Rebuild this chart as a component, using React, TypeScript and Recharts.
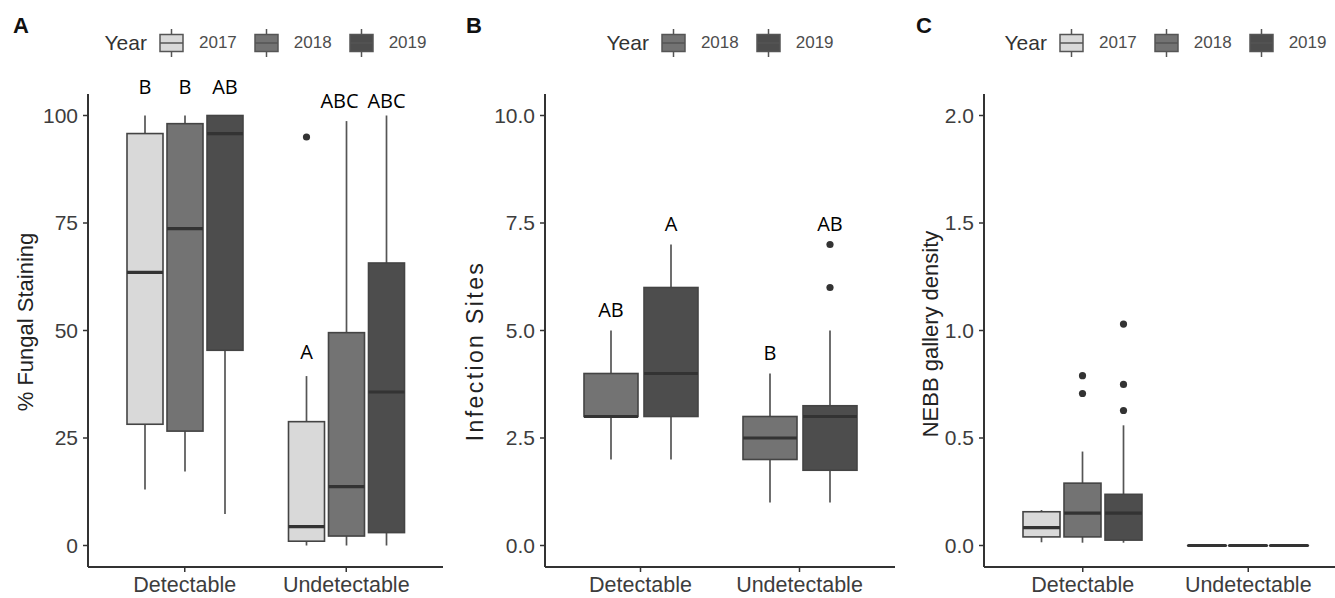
import React from 'react';
import { ComposedChart, Bar, XAxis, YAxis, Legend } from 'recharts';

const SANS = '"Liberation Sans", Arial, Helvetica, sans-serif';
const LETTER_FONT = '"Open Sans", "Noto Sans", sans-serif';

const categories = ['Detectable', 'Undetectable'];
const fill2017 = '#d9d9d9';
const fill2018 = '#737373';
const fill2019 = '#4d4d4d';

// Box summaries per category: [lower whisker, Q1, median, Q3, upper whisker]
const fungal2017 = [[13.0, 28.2, 63.5, 95.8, 100], [0, 1.0, 4.4, 28.8, 39.4]];
const fungal2018 = [[17.2, 26.6, 73.7, 98.1, 100], [0, 2.2, 13.7, 49.5, 98.7]];
const fungal2019 = [[7.3, 45.4, 95.8, 100, 100], [0, 3.0, 35.7, 65.7, 100]];
const fungalOutliers2017 = [[], [95]];
const fungalOutliers2018 = [[], []];
const fungalOutliers2019 = [[], []];
const fungalLetters2017 = ['B', 'A'];
const fungalLetters2018 = ['B', 'ABC'];
const fungalLetters2019 = ['AB', 'ABC'];
const fungalLetterY2017 = [106.7, 45.2];
const fungalLetterY2018 = [106.7, 103.5];
const fungalLetterY2019 = [106.7, 103.5];
const fungalTicks = [0, 25, 50, 75, 100];

const sites2018 = [[2, 3, 3, 4, 5], [1, 2, 2.5, 3, 4]];
const sites2019 = [[2, 3, 4, 6, 7], [1, 1.75, 3, 3.25, 5]];
const sitesOutliers2018 = [[], []];
const sitesOutliers2019 = [[], [6, 7]];
const sitesLetters2018 = ['AB', 'B'];
const sitesLetters2019 = ['A', 'AB'];
const sitesLetterY2018 = [5.5, 4.5];
const sitesLetterY2019 = [7.5, 7.5];
const sitesTicks = [0, 2.5, 5, 7.5, 10];

const gallery2017 = [[0.015, 0.04, 0.083, 0.157, 0.165], [0, 0, 0, 0, 0]];
const gallery2018 = [[0.013, 0.04, 0.151, 0.29, 0.437], [0, 0, 0, 0, 0]];
const gallery2019 = [[0.013, 0.025, 0.151, 0.238, 0.559], [0, 0, 0, 0, 0]];
const galleryOutliers2017 = [[], []];
const galleryOutliers2018 = [[0.707, 0.79], []];
const galleryOutliers2019 = [[0.628, 0.749, 1.03], []];
const galleryTicks = [0, 0.5, 1, 1.5, 2];

type Group = { stats: number[]; outliers: number[]; letter?: string; letterY?: number };
type Series = { year: string; fill: string; groups: Group[]; letterShift?: number[] };

function buildSeries(
  year: string,
  fill: string,
  stats: number[][],
  outliers: number[][],
  letters?: string[],
  letterY?: number[]
): Series {
  return {
    year,
    fill,
    groups: stats.map((s, i) => ({
      stats: s,
      outliers: outliers[i],
      letter: letters ? letters[i] : undefined,
      letterY: letterY ? letterY[i] : undefined,
    })),
  };
}

function buildRows(series: Series[]) {
  return categories.map((category, i) => {
    const row: any = { category };
    series.forEach((s) => {
      row[s.year] = s.groups[i];
    });
    return row;
  });
}

const rangeOf = (g: Group): [number, number] => {
  const vals = [...g.stats, ...g.outliers];
  return [Math.min(...vals), Math.max(...vals)];
};

// Draws one box-and-whisker glyph inside the range bar that spans its full data extent
function makeBoxShape(year: string, fill: string, letterShift?: number[]) {
  return (props: any) => {
    const { x, y, width, height, payload, index } = props;
    const g: Group = payload[year];
    const [lo, hi] = rangeOf(g);
    const top = Math.min(y, y + height);
    const bottom = Math.max(y, y + height);
    const py = (v: number) => (hi === lo ? top : top + ((bottom - top) * (hi - v)) / (hi - lo));
    const [wlo, q1, med, q3, whi] = g.stats;
    const cx = x + width / 2;
    const shift = letterShift ? letterShift[index] || 0 : 0;
    return (
      <g>
        <line x1={cx} x2={cx} y1={py(whi)} y2={py(q3)} stroke="#555" strokeWidth={1.7} />
        <line x1={cx} x2={cx} y1={py(q1)} y2={py(wlo)} stroke="#555" strokeWidth={1.7} />
        <rect
          x={x}
          y={py(q3)}
          width={width}
          height={Math.max(0, py(q1) - py(q3))}
          fill={fill}
          stroke="#444"
          strokeWidth={1.6}
        />
        <line
          x1={x}
          x2={x + width}
          y1={py(med)}
          y2={py(med)}
          stroke="#333"
          strokeWidth={3.2}
          strokeLinecap={q1 === q3 ? 'round' : 'butt'}
        />
        {g.outliers.map((v, i) => (
          <circle key={i} cx={cx} cy={py(v)} r={3.6} fill="#333" />
        ))}
        {g.letter && g.letterY !== undefined ? (
          <text
            x={cx + shift}
            y={py(g.letterY)}
            textAnchor="middle"
            dominantBaseline="central"
            fontFamily={LETTER_FONT}
            fontSize={20}
            fill="#000"
          >
            {g.letter}
          </text>
        ) : null}
      </g>
    );
  };
}

const LegendKey = ({ fill }: { fill: string }) => (
  <svg width={25} height={30} style={{ display: 'block' }}>
    <line x1={12.5} x2={12.5} y1={1} y2={29} stroke="#555" strokeWidth={1.5} />
    <rect x={1} y={6.5} width={23} height={17} fill={fill} stroke="#555" strokeWidth={1.5} />
    <line x1={1} x2={24} y1={15} y2={15} stroke="#555" strokeWidth={1.5} />
  </svg>
);

const YearLegend = (props: any) => {
  const payload = props.payload || [];
  return (
    <div
      style={{
        display: 'flex',
        alignItems: 'center',
        justifyContent: 'center',
        height: 30,
        fontFamily: SANS,
      }}
    >
      <span style={{ fontSize: 21, color: '#333', marginRight: 12 }}>Year</span>
      {payload.map((p: any, i: number) => (
        <span
          key={p.value}
          style={{ display: 'flex', alignItems: 'center', marginRight: i < payload.length - 1 ? 17 : 0 }}
        >
          <LegendKey fill={p.color} />
          <span style={{ fontSize: 17, color: '#4d4d4d', marginLeft: 15 }}>{p.value}</span>
        </span>
      ))}
    </div>
  );
};

type PanelProps = {
  left: number;
  width: number;
  marginLeft: number;
  marginRight: number;
  series: Series[];
  domain: [number, number];
  ticks: number[];
  decimals: number;
  barSize: number;
  barGap: number;
  pad: number;
  title: string;
  titleX: number;
  titleY: number;
  titleSize?: number;
  titleSpacing?: number;
};

const Y_AXIS_WIDTH = 60;

function BoxPanel(p: PanelProps) {
  const rows = buildRows(p.series);
  const plotLeft = p.marginLeft + Y_AXIS_WIDTH;
  const plotWidth = p.width - plotLeft - p.marginRight;
  const axisTitle = () => (
    <text
      x={p.titleX}
      y={p.titleY}
      transform={`rotate(-90 ${p.titleX} ${p.titleY})`}
      textAnchor="middle"
      dominantBaseline="central"
      fontFamily={SANS}
      fontSize={p.titleSize || 22}
      letterSpacing={p.titleSpacing || 0}
      fill="#222"
    >
      {p.title}
    </text>
  );
  return (
    <div style={{ position: 'absolute', left: p.left, top: 0 }}>
      <ComposedChart
        width={p.width}
        height={598}
        data={rows}
        margin={{ top: 64, right: p.marginRight, bottom: 0, left: p.marginLeft }}
        barSize={p.barSize}
        barGap={p.barGap}
      >
        <XAxis
          dataKey="category"
          type="category"
          padding={{ left: p.pad, right: p.pad }}
          height={31}
          tickSize={5}
          tickMargin={5}
          axisLine={{ stroke: '#333', strokeWidth: 2 }}
          tickLine={{ stroke: '#333', strokeWidth: 1.5 }}
          tick={{ fill: '#3d3d3d', fontSize: 21.5, fontFamily: SANS }}
        />
        <YAxis
          type="number"
          width={Y_AXIS_WIDTH}
          domain={p.domain}
          ticks={p.ticks}
          interval={0}
          tickFormatter={(v: number) => v.toFixed(p.decimals)}
          tickSize={5}
          tickMargin={5}
          axisLine={{ stroke: '#333', strokeWidth: 2 }}
          tickLine={{ stroke: '#333', strokeWidth: 1.5 }}
          tick={{ fill: '#3d3d3d', fontSize: 21, fontFamily: SANS }}
          label={axisTitle}
        />
        <Legend
          verticalAlign="top"
          align="center"
          content={(lp: any) => <YearLegend {...lp} />}
          wrapperStyle={{ top: 28, left: plotLeft, width: plotWidth, height: 30 }}
        />
        {p.series.map((s) => (
          <Bar
            key={s.year}
            name={s.year}
            dataKey={(row: any) => rangeOf(row[s.year])}
            fill={s.fill}
            isAnimationActive={false}
            shape={makeBoxShape(s.year, s.fill, s.letterShift)}
          />
        ))}
      </ComposedChart>
    </div>
  );
}

const fungalSeries: Series[] = [
  buildSeries('2017', fill2017, fungal2017, fungalOutliers2017, fungalLetters2017, fungalLetterY2017),
  {
    ...buildSeries('2018', fill2018, fungal2018, fungalOutliers2018, fungalLetters2018, fungalLetterY2018),
    // keep the two neighbouring "ABC" labels apart
    letterShift: [0, -7],
  },
  buildSeries('2019', fill2019, fungal2019, fungalOutliers2019, fungalLetters2019, fungalLetterY2019),
];

const sitesSeries = [
  buildSeries('2018', fill2018, sites2018, sitesOutliers2018, sitesLetters2018, sitesLetterY2018),
  buildSeries('2019', fill2019, sites2019, sitesOutliers2019, sitesLetters2019, sitesLetterY2019),
];

const gallerySeries = [
  buildSeries('2017', fill2017, gallery2017, galleryOutliers2017),
  buildSeries('2018', fill2018, gallery2018, galleryOutliers2018),
  buildSeries('2019', fill2019, gallery2019, galleryOutliers2019),
];

export default function App() {
  return (
    <div
      style={{
        position: 'absolute',
        left: 0,
        top: 0,
        width: 1335,
        height: 598,
        overflow: 'hidden',
        background: '#fff',
      }}
    >
      <BoxPanel
        left={0}
        width={445}
        marginLeft={28}
        marginRight={2}
        series={fungalSeries}
        domain={[-5, 105]}
        ticks={fungalTicks}
        decimals={0}
        barSize={36}
        barGap={4}
        pad={16}
        title="% Fungal Staining"
        titleX={25}
        titleY={322}
      />
      <BoxPanel
        left={445}
        width={452}
        marginLeft={40}
        marginRight={2}
        series={sitesSeries}
        domain={[-0.5, 10.5]}
        ticks={sitesTicks}
        decimals={1}
        barSize={54}
        barGap={6}
        pad={16}
        title="Infection Sites"
        titleX={30}
        titleY={351}
        titleSize={23}
        titleSpacing={2.4}
      />
      <BoxPanel
        left={895}
        width={454}
        marginLeft={29}
        marginRight={2}
        series={gallerySeries}
        domain={[-0.1, 2.1]}
        ticks={galleryTicks}
        decimals={1}
        barSize={37}
        barGap={4}
        pad={16}
        title="NEBB gallery density"
        titleX={35}
        titleY={334}
      />
      <svg
        width={1335}
        height={598}
        style={{ position: 'absolute', left: 0, top: 0, pointerEvents: 'none' }}
      >
        <text x={13} y={33} fontFamily={SANS} fontWeight="bold" fontSize={22} fill="#111">
          A
        </text>
        <text x={466} y={33} fontFamily={SANS} fontWeight="bold" fontSize={22} fill="#111">
          B
        </text>
        <text x={916} y={33} fontFamily={SANS} fontWeight="bold" fontSize={22} fill="#111">
          C
        </text>
      </svg>
    </div>
  );
}
